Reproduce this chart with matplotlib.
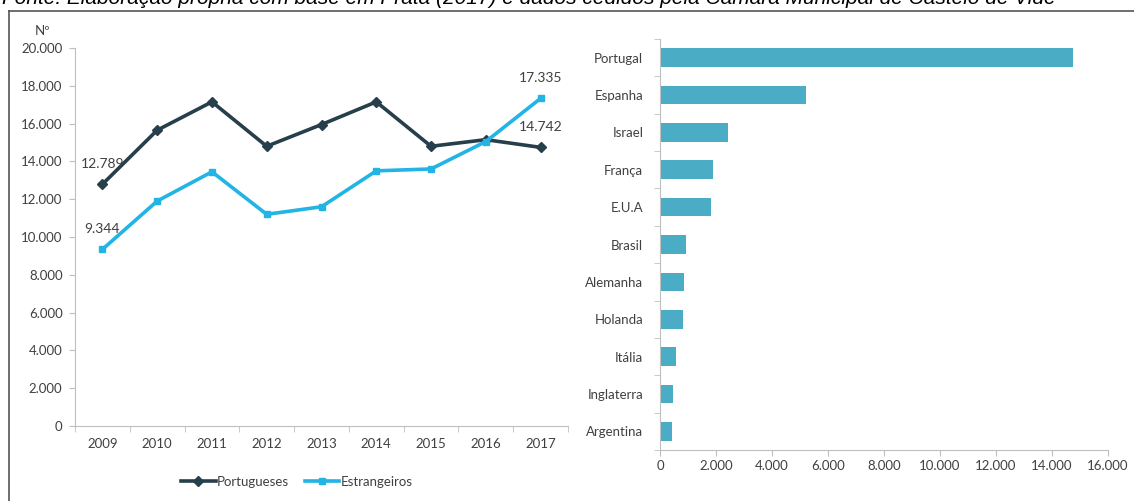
import numpy as np
import matplotlib.pyplot as plt
from matplotlib.lines import Line2D

# dados
anos = ["2009", "2010", "2011", "2012", "2013", "2014", "2015", "2016", "2017"]
portugueses = [12789, 15650, 17150, 14800, 15950, 17150, 14800, 15150, 14742]
estrangeiros = [9344, 11900, 13450, 11200, 11600, 13500, 13600, 15050, 17335]

paises = ["Portugal", "Espanha", "Israel", "França", "E.U.A", "Brasil",
          "Alemanha", "Holanda", "Itália", "Inglaterra", "Argentina"]
hospedes = [14742, 5200, 2420, 1880, 1820, 930, 870, 820, 560, 450, 430]

fonte = ("Fonte: Elaboração própria com base em Prata (2017) e dados cedidos "
         "pela Câmara Municipal de Castelo de Vide")

cor_pt = "#263F4B"
cor_es = "#21B4E4"
cor_barra = "#4BACC6"
cinza = "#BFBFBF"
texto = "#404040"

plt.rcParams['font.family'] = ['Lato', 'DejaVu Sans']

W, H = 1134, 501
fig = plt.figure(figsize=(W / 100, H / 100), dpi=100)

def fmt(v):
    return f"{int(v):,}".replace(",", ".")

# moldura e legenda da fonte
fig.add_artist(Line2D([9 / W, 9 / W], [0, 1 - 11 / H], color="#555555", lw=1.2))
fig.add_artist(Line2D([9 / W, 1], [1 - 11 / H, 1 - 11 / H], color="#555555", lw=1.2))
fig.text(2 / W, 1 - 3.5 / H, fonte, family="Liberation Sans", style="italic",
         fontsize=15, color="black", va="baseline", ha="left")

# grafico de linhas
ax1 = fig.add_axes([75 / W, 1 - 426 / H, 493 / W, 378 / H])
x = np.arange(len(anos))
ax1.plot(x, portugueses, color=cor_pt, lw=2.6, marker="D", ms=5, label="Portugueses")
ax1.plot(x, estrangeiros, color=cor_es, lw=2.6, marker="s", ms=5, label="Estrangeiros")
ax1.set_xlim(-0.5, len(anos) - 0.5)
ax1.set_ylim(0, 20000)
ax1.set_yticks(range(0, 20001, 2000))
ax1.set_yticklabels([fmt(v) for v in range(0, 20001, 2000)])
ax1.set_xticks(x)
ax1.set_xticklabels(anos)
ax1.set_xticks(np.arange(-0.5, len(anos), 1), minor=True)
ax1.tick_params(axis="x", which="major", length=0, pad=9, labelsize=9.5, labelcolor=texto)
ax1.tick_params(axis="x", which="minor", length=4, color=cinza, direction="out")
ax1.tick_params(axis="y", length=4, color=cinza, labelsize=9.5, labelcolor=texto, pad=5)
for s in ["top", "right"]:
    ax1.spines[s].set_visible(False)
for s in ["left", "bottom"]:
    ax1.spines[s].set_color(cinza)
ax1.text(-0.05, 1.03, "Nº", transform=ax1.transAxes, ha="right", va="bottom",
         fontsize=9.5, color=texto)

ax1.annotate(fmt(portugueses[0]), (x[0], portugueses[0]), xytext=(0, 12),
             textcoords="offset points", ha="center", fontsize=10, color=texto)
ax1.annotate(fmt(estrangeiros[0]), (x[0], estrangeiros[0]), xytext=(0, 12),
             textcoords="offset points", ha="center", fontsize=10, color=texto)
ax1.annotate(fmt(estrangeiros[-1]), (x[-1], estrangeiros[-1]), xytext=(0, 12),
             textcoords="offset points", ha="center", fontsize=10, color=texto)
ax1.annotate(fmt(portugueses[-1]), (x[-1], portugueses[-1]), xytext=(0, 12),
             textcoords="offset points", ha="center", fontsize=10, color=texto)

ax1.legend(loc="upper center", bbox_to_anchor=(0.45, -0.1), ncol=2, frameon=False,
           fontsize=9.5, handlelength=2.6, handletextpad=0.1, columnspacing=1.2,
           labelcolor=texto)

# grafico de barras
ax2 = fig.add_axes([660 / W, 1 - 450 / H, 448 / W, 411 / H])
y = np.arange(len(paises))
ax2.barh(y, hospedes, height=0.5, color=cor_barra)
ax2.set_ylim(len(paises) - 0.5, -0.5)
ax2.set_xlim(0, 16000)
ax2.set_xticks(range(0, 16001, 2000))
ax2.set_xticklabels([fmt(v) for v in range(0, 16001, 2000)])
ax2.set_yticks(y)
ax2.set_yticklabels(paises)
ax2.set_yticks(np.arange(-0.5, len(paises), 1), minor=True)
ax2.tick_params(axis="y", which="major", length=0, pad=12, labelsize=9.5, labelcolor=texto)
ax2.tick_params(axis="y", which="minor", length=4, color=cinza)
ax2.tick_params(axis="x", length=4, color=cinza, labelsize=9.5, labelcolor=texto, pad=3)
for s in ["top", "right"]:
    ax2.spines[s].set_visible(False)
for s in ["left", "bottom"]:
    ax2.spines[s].set_color(cinza)

fig.savefig("out.png", dpi=100)
